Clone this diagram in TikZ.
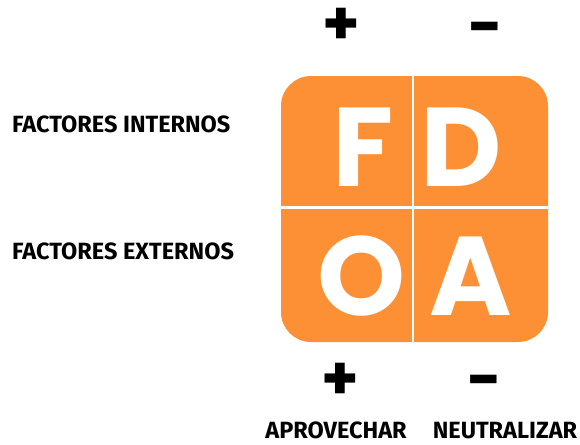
\documentclass[tikz,border=0pt]{standalone}
\usepackage{fontspec}
\setmainfont{Fira Sans}
\newfontfamily\bigfont{Poppins}
\definecolor{fdoaorange}{HTML}{FD9035}
\tikzset{
  factor/.style={font=\fontsize{23.5}{23.5}\selectfont\bfseries, inner sep=0pt},
  letter/.style={font=\bigfont\fontsize{112}{112}\selectfont\bfseries, text=white, inner sep=0pt, anchor=base},
  sign/.style={font=\bigfont\fontsize{60}{60}\selectfont\bfseries, inner sep=0pt, anchor=base}
}
\begin{document}
\begin{tikzpicture}[x=1pt, y=-1pt]
  \useasboundingbox (0,0) rectangle (580,444);
  % matrix
  \fill[fdoaorange, rounded corners=30pt] (281,76) rectangle (548,342);
  \draw[white, line width=2.5pt] (413,76) -- (413,342);
  \draw[white, line width=2.5pt] (281,207.5) -- (548,207.5);

  \node[letter] (F) at (363,186) {F};
  \node[letter] (D) at (461,186) {D};
  \node[letter] (O) at (362,315) {O};
  \node[letter] (A) at (471,315) {A};

  % signos
  \node[sign] (mas1) at (341,45) {+};
  \node[sign] (menos1) at (485,48) {−};
  \node[sign] (mas2) at (340,399) {+};
  \node[sign] (menos2) at (484,400.5) {−};

  % etiquetas
  \node[factor, anchor=west] (int) at (12,124.5) {FACTORES INTERNOS};
  \node[factor, anchor=west] (ext) at (12,251) {FACTORES EXTERNOS};
  \node[factor, anchor=base] (apr) at (336,438) {APROVECHAR};
  \node[factor, anchor=base] (neu) at (505,438) {NEUTRALIZAR};
\end{tikzpicture}
\end{document}
